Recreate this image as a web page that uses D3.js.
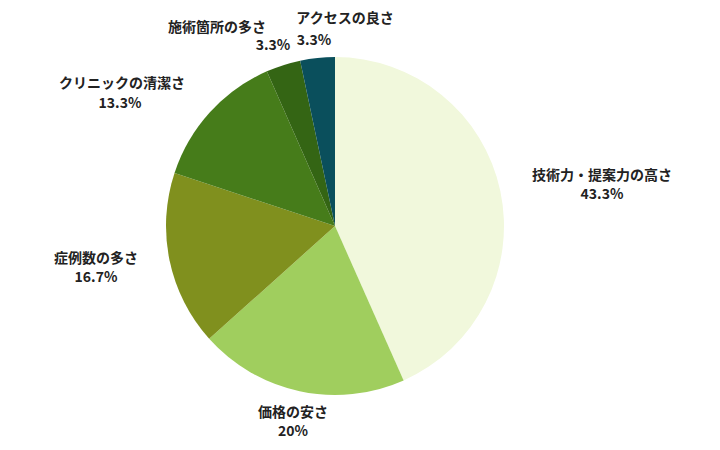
<!DOCTYPE html>
<html><head><meta charset="utf-8">
<script src="https://cdn.jsdelivr.net/npm/d3@7"></script>
<style>
html,body{margin:0;padding:0;background:#fff;}
text{font-family:"Noto Sans CJK JP","Noto Sans",sans-serif;font-weight:bold;font-size:14px;fill:#222;}
</style></head>
<body><svg id="chart" width="720" height="450"></svg>
<script>
const categories = ["技術力・提案力の高さ","価格の安さ","症例数の多さ","クリニックの清潔さ","施術箇所の多さ","アクセスの良さ"];
const values = [43.3, 20, 16.7, 13.3, 3.3, 3.3];
const percentLabels = ["43.3%","20%","16.7%","13.3%","3.3%","3.3%"];
const colors = ["#f1f8dc","#a0ce5e","#80901e","#467c1a","#346514","#0a4f5c"];
// label layout: [nameX, nameY, pctX, pctY]
const labelLayout = [
  [602,180,602,199],
  [293,417,293,436],
  [96,263,96,282],
  [122,88,120,108],
  [217,32,273,50],
  [345,23,314,45]
];

const svg = d3.select("#chart");
const cx = 335, cy = 226, r = 169;
const pie = d3.pie().sort(null).value(d => d)(values);
const arc = d3.arc().innerRadius(0).outerRadius(r);
const g = svg.append("g").attr("transform", `translate(${cx},${cy})`);
g.selectAll("path").data(pie).join("path")
  .attr("d", arc).attr("fill", (d,i) => colors[i]);

const lg = svg.append("g");
categories.forEach((c,i) => {
  const L = labelLayout[i];
  lg.append("text").attr("x", L[0]).attr("y", L[1]).attr("text-anchor","middle").text(c);
  lg.append("text").attr("x", L[2]).attr("y", L[3]).attr("text-anchor","middle").text(percentLabels[i]);
});
</script></body></html>
